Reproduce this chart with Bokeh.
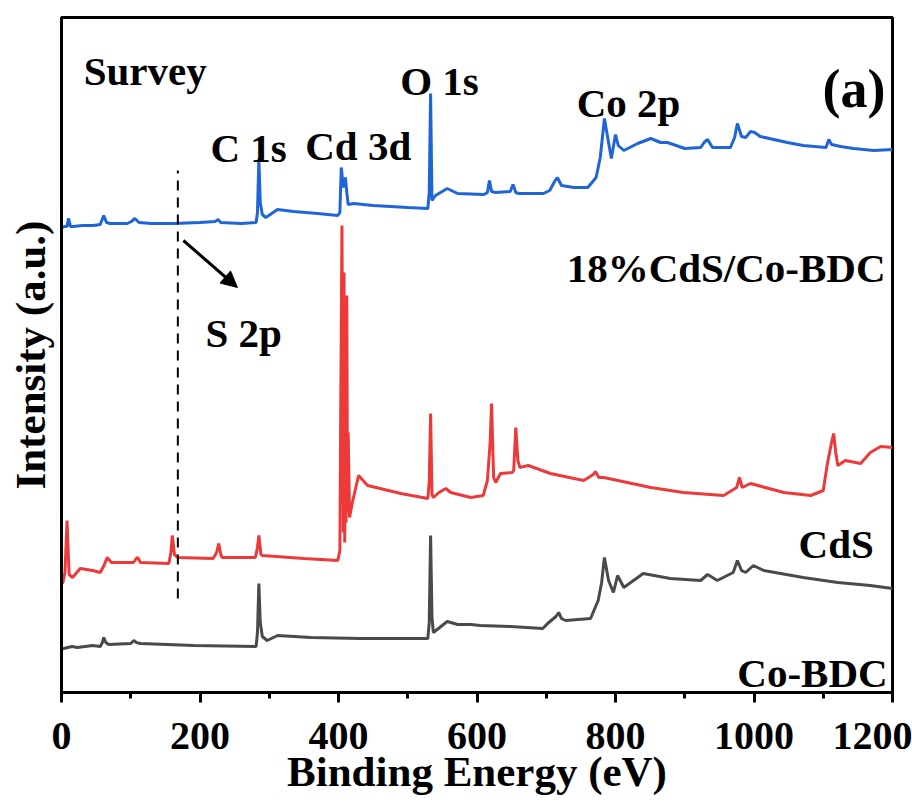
from bokeh.plotting import figure
from bokeh.models import Range1d, FixedTicker, Arrow, NormalHead
from bokeh.core.properties import value
from bokeh.embed import file_html
from bokeh.resources import INLINE

# ---------------- data (binding energy in eV, intensity in a.u., stacked) -------------
hyb_ev = [0, 3, 8, 10, 13, 17, 30, 46, 56, 61, 65, 70, 95, 101, 106, 112, 130, 162, 200,
          222, 226, 230, 260, 281, 283, 285, 287, 290, 295, 312, 335, 370, 399, 402, 404,
          407, 410, 412, 414, 422, 450, 500, 529, 531, 533, 535, 540, 557, 572, 610, 615,
          618, 621, 627, 648, 652, 656, 660, 696, 705, 712, 716, 722, 740, 760, 772, 778,
          784, 790, 794, 800, 804, 812, 832, 851, 865, 875, 900, 923, 928, 933, 940, 966,
          972, 976, 982, 988, 995, 1001, 1009, 1048, 1071, 1104, 1108, 1112, 1125, 1144,
          1173, 1200]
hyb_int = [464, 466, 466, 474, 466, 466, 467, 467, 468, 477, 470, 469, 469, 471, 474, 470,
           469, 469, 470, 471, 473, 470, 469, 470, 480, 534, 490, 478, 475, 483, 481, 479,
           477, 480, 525, 505, 515, 500, 488, 489, 487, 485, 484, 500, 599, 492, 497, 504,
           499, 498, 500, 512, 501, 500, 501, 508, 500, 499, 499, 502, 511, 515, 507, 505,
           505, 515, 535, 574, 550, 534, 558, 547, 542, 549, 554, 550, 550, 544, 545, 550,
           553, 545, 545, 555, 569, 556, 555, 561, 560, 556, 550, 547, 545, 553, 548, 546,
           544, 542, 543]

cds_ev = [0, 2, 5, 8, 11, 16, 27, 45, 56, 62, 66, 72, 78, 104, 108, 110, 114, 155, 158, 160,
          163, 168, 219, 224, 227, 230, 232, 280, 283, 285, 288, 290, 350, 399, 402, 403,
          405, 406, 407, 408, 409, 410, 411, 412, 413, 414, 416, 420, 429, 442, 490, 529,
          531, 533, 535, 537, 545, 555, 562, 591, 609, 615, 619, 621, 624, 627, 634, 651,
          653, 656, 659, 662, 674, 706, 754, 768, 771, 776, 783, 851, 898, 956, 975, 979,
          983, 995, 1043, 1082, 1100, 1106, 1112, 1115, 1118, 1121, 1132, 1154, 1168, 1183,
          1200]
cds_int = [108, 110, 120, 172, 118, 115, 124, 122, 120, 128, 135, 130, 130, 130, 134, 135,
           130, 129, 140, 157, 138, 135, 134, 140, 149, 138, 135, 135, 145, 157, 138, 137,
           134, 132, 142, 260, 467, 300, 160, 420, 150, 330, 170, 397, 180, 260, 175, 190,
           217, 207, 199, 194, 210, 279, 198, 195, 200, 204, 200, 195, 197, 212, 250, 289,
           215, 210, 219, 220, 222, 265, 232, 225, 227, 219, 212, 218, 221, 215, 215, 205,
           200, 197, 205, 215, 205, 209, 200, 197, 202, 229, 250, 259, 240, 227, 232, 229,
           240, 246, 245]

bdc_ev = [0, 3, 15, 23, 45, 56, 59, 61, 64, 68, 100, 103, 105, 108, 114, 191, 281, 283, 285,
          287, 290, 297, 312, 360, 432, 529, 531, 533, 535, 537, 557, 572, 591, 605, 648,
          695, 702, 714, 718, 722, 728, 764, 775, 780, 784, 790, 797, 803, 812, 840, 879,
          923, 933, 947, 970, 976, 982, 988, 999, 1014, 1071, 1121, 1168, 1200]
bdc_int = [43, 44, 46, 45, 47, 46, 50, 55, 50, 48, 49, 51, 52, 50, 49, 47, 46, 60, 109, 70,
           56, 52, 57, 55, 54, 54, 70, 157, 75, 60, 71, 68, 68, 67, 66, 64, 69, 76, 80, 74,
           72, 74, 92, 110, 135, 112, 100, 117, 105, 119, 114, 112, 118, 112, 120, 132, 122,
           120, 127, 122, 115, 110, 107, 104]

x_ticks = [0, 200, 400, 600, 800, 1000, 1200]
x_minor = [100, 300, 500, 700, 900, 1100]

# ---------------- figure ----------------
FONT = "Liberation Serif"

p = figure(width=912, height=802, output_backend="svg", toolbar_location=None,
           x_range=Range1d(0, 1200), y_range=Range1d(0, 675),
           min_border_left=61, min_border_right=20, min_border_top=17,
           min_border_bottom=110)
p.background_fill_color = "white"
p.border_fill_color = "white"
p.xgrid.visible = False
p.ygrid.visible = False
p.outline_line_color = "black"
p.outline_line_width = 3
p.outline_line_alpha = 1

xa = p.xaxis[0]
xa.ticker = FixedTicker(ticks=x_ticks, minor_ticks=x_minor)
xa.axis_line_width = 3
xa.major_tick_line_width = 3
xa.minor_tick_line_width = 3
xa.major_tick_in = 0
xa.major_tick_out = 10
xa.minor_tick_in = 0
xa.minor_tick_out = 6
xa.major_label_text_font = FONT
xa.major_label_text_font_style = "bold"
xa.major_label_text_font_size = "40px"
xa.major_label_text_color = "black"
xa.major_label_standoff = 20
xa.axis_label = "Binding Energy (eV)"
xa.axis_label_text_font = FONT
xa.axis_label_text_font_style = "bold"
xa.axis_label_text_font_size = "43px"
xa.axis_label_text_color = "black"
xa.axis_label_standoff = -4

ya = p.yaxis[0]
ya.ticker = FixedTicker(ticks=[])
ya.axis_line_width = 3
ya.major_tick_line_color = None
ya.minor_tick_line_color = None
ya.axis_label = "Intensity (a.u.)"
ya.axis_label_text_font = FONT
ya.axis_label_text_font_style = "bold"
ya.axis_label_text_font_size = "43px"
ya.axis_label_text_color = "black"
ya.axis_label_standoff = 8

# ---------------- spectra ----------------
p.line(bdc_ev, bdc_int, line_color="#4a4a4a", line_width=3)
p.line(cds_ev, cds_int, line_color="#ec3a3a", line_width=3)
p.line(hyb_ev, hyb_int, line_color="#1f65d8", line_width=3)

# S 2p marker
p.segment(x0=[168], y0=[94], x1=[168], y1=[522], line_color="black",
          line_width=2, line_dash="10 7")
p.add_layout(Arrow(end=NormalHead(size=16, fill_color="black", line_color="black"),
                   x_start=176, y_start=452, x_end=254, y_end=405,
                   line_width=3, line_color="black"))

# ---------------- labels ----------------
left_x = [32, 215, 352, 489, 744, 208]
left_y = [622, 545, 547, 612, 590, 360]
left_t = ["Survey", "C 1s", "Cd 3d", "O 1s", "Co 2p", "S 2p"]
p.text(x=left_x, y=left_y, text=left_t, text_font=value(FONT), text_font_style="bold",
       text_font_size="41px", text_align="left", text_baseline="alphabetic",
       text_color="black")

right_x = [1190, 1173, 1193]
right_y = [425, 149, 20]
right_t = ["18%CdS/Co-BDC", "CdS", "Co-BDC"]
p.text(x=right_x, y=right_y, text=right_t, text_font=value(FONT), text_font_style="bold",
       text_font_size="41px", text_align="right", text_baseline="alphabetic",
       text_color="black")

p.text(x=[1190], y=[604], text=["(a)"], text_font=value(FONT), text_font_style="bold",
       text_font_size="54px", text_align="right", text_baseline="alphabetic",
       text_color="black")

open("out.html", "w").write(file_html(p, INLINE))
